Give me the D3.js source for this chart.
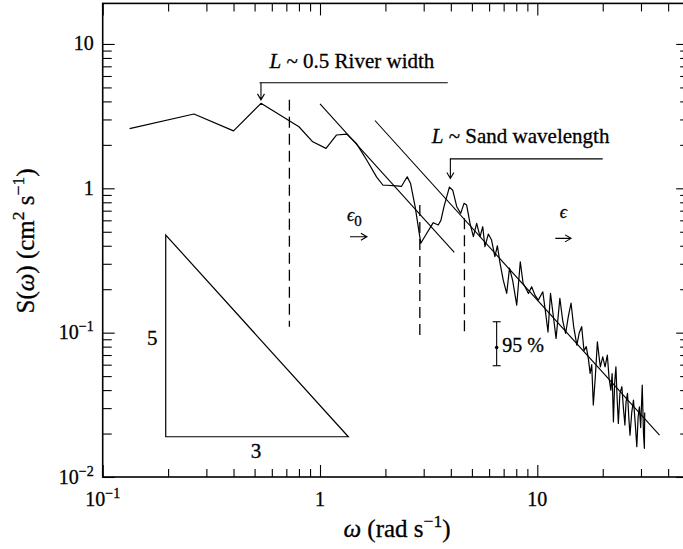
<!DOCTYPE html>
<html>
<head>
<meta charset="utf-8">
<script src="https://cdn.jsdelivr.net/npm/d3@7"></script>
<style>
  body { margin: 0; background: #fff; }
  svg { display: block; }
  text { font-family: "Liberation Serif", "Times New Roman", Times, serif; fill: #000; stroke: #000; stroke-width: 0.3px; }
</style>
</head>
<body>
<svg id="viz"></svg>
<script>
// spectrum (rad/s, cm^2/s)
const omega = [
  0.133, 0.263, 0.40, 0.535, 0.80, 0.926, 1.066, 1.19, 1.33, 1.47,
  1.64, 1.82, 1.95, 2.03, 2.25, 2.37, 2.44, 2.52, 2.61, 2.74,
  2.91, 3.10, 3.32, 3.50, 3.60, 3.72, 3.94, 4.08, 4.26, 4.44,
  4.60, 4.73, 4.90, 5.08, 5.26, 5.45, 5.61, 5.74, 5.95, 6.16,
  6.38, 6.55, 6.74, 6.97, 7.23, 7.45, 7.70, 8.04, 8.35, 8.60,
  8.90, 9.10, 9.42, 9.75, 10.1, 10.6, 10.9, 11.2, 11.5, 11.85,
  12.2, 12.7, 13.1, 13.5, 13.9, 14.3, 14.7, 15.2, 15.6, 16.0,
  16.4, 16.8, 17.2, 17.5, 17.8, 18.1, 18.5, 18.9, 19.2, 19.5,
  20.0, 20.5, 21.0, 21.4, 21.8, 22.1, 22.4, 22.7, 23.0, 23.3,
  23.6, 24.0, 24.5, 24.9, 25.3, 25.6, 26.0, 26.4, 26.7, 27.2,
  27.7, 28.2, 28.7, 29.1, 29.5, 29.9, 30.4, 30.8, 31.1, 31.2
]
const power = [
  2.59, 3.27, 2.50, 3.88, 2.67, 2.10, 1.89, 2.34, 2.37, 2.05,
  1.57, 1.20, 1.05, 1.05, 1.04, 1.03, 1.11, 1.20, 1.08, 0.746,
  0.416, 0.488, 0.578, 0.557, 0.60, 0.746, 1.02, 0.97, 0.746, 0.671,
  0.787, 0.766, 0.572, 0.462, 0.572, 0.462, 0.542, 0.394, 0.482, 0.438,
  0.336, 0.40, 0.302, 0.231, 0.187, 0.28, 0.23, 0.155, 0.31, 0.22,
  0.20, 0.187, 0.208, 0.182, 0.168, 0.192, 0.14, 0.101, 0.187, 0.13,
  0.0913, 0.173, 0.12, 0.0989, 0.13, 0.160, 0.11, 0.082, 0.10, 0.110,
  0.075, 0.08, 0.065, 0.0522, 0.06, 0.0315, 0.05, 0.0865, 0.07, 0.058,
  0.068, 0.058, 0.070, 0.048, 0.04, 0.052, 0.0241, 0.045, 0.058, 0.035,
  0.0235, 0.038, 0.0422, 0.03, 0.0229, 0.033, 0.038, 0.025, 0.0195, 0.028,
  0.0341, 0.024, 0.0162, 0.026, 0.0306, 0.022, 0.0433, 0.02, 0.0158, 0.028
]

// -5/3 reference lines [w0, S0, w1, S1]
const fitLines = [
  [1.0, 3.84, 4.15, 0.36],
  [1.79, 2.95, 36.5, 0.0195]
]
// dashed markers [w, Sbottom, Stop]
const dashedMarks = [
  [0.723, 0.11, 4.1],
  [2.88, 0.096, 0.766],
  [4.62, 0.096, 0.62]
]
const slopeTriangle = [[0.195, 0.475], [0.195, 0.019], [1.35, 0.019]]
const errorBar = { w: 6.5, lo: 0.059, mid: 0.079, hi: 0.119 }

const xMajor = [0.1, 1, 10]
const xMinor = [0.2, 0.3, 0.4, 0.5, 0.6, 0.7, 0.8, 0.9, 2, 3, 4, 5, 6, 7, 8, 9, 20, 30, 40]
const yMajor = [0.01, 0.1, 1, 10]
const yMinor = [0.02, 0.03, 0.04, 0.05, 0.06, 0.07, 0.08, 0.09,
  0.2, 0.3, 0.4, 0.5, 0.6, 0.7, 0.8, 0.9, 2, 3, 4, 5, 6, 7, 8, 9]
const xTickText = [['10', '−1'], ['1', ''], ['10', '']]
const yTickText = [['10', '−2'], ['10', '−1'], ['1', ''], ['10', '']]

const width = 683
const height = 549

const x = d3.scaleLog().domain([0.1, 50]).range([102.7, 689.2])
const y = d3.scaleLog().domain([0.01, 19.1]).range([477, 3.4])

const svg = d3.select('#viz')
  .attr('width', width)
  .attr('height', height)

// writes [text, kind] pieces, kind = 'i' italic, 'sup' superscript
function addParts(text, parts, size) {
  let shift = 0
  parts.forEach(([s, kind]) => {
    if (!s) return
    const t = text.append('tspan').text(s)
    const target = kind === 'sup' ? -size * 0.4 : 0
    if (target !== shift) t.attr('dy', target - shift)
    shift = target
    if (kind === 'sup') t.attr('font-size', size * 0.7)
    if (kind === 'i') t.attr('font-style', 'italic')
  })
}

// frame
svg.append('rect')
  .attr('x', x(0.1))
  .attr('y', y(19.1))
  .attr('width', x(50) - x(0.1))
  .attr('height', y(0.01) - y(19.1))
  .attr('fill', 'none')
  .attr('stroke', '#000')
  .attr('stroke-width', 1.6)

function ticks(axis, vals, len) {
  return (g) => {
    g.call(axis.tickValues(vals).tickSize(-len).tickSizeOuter(0).tickFormat(''))
    g.select('.domain').remove()
    g.selectAll('line').attr('stroke', '#000').attr('stroke-width', 1.1)
  }
}

svg.append('g').attr('transform', `translate(0,${y(0.01)})`).call(ticks(d3.axisBottom(x), xMinor, 8))
svg.append('g').attr('transform', `translate(0,${y(0.01)})`).call(ticks(d3.axisBottom(x), xMajor, 12))
svg.append('g').attr('transform', `translate(0,${y(19.1)})`).call(ticks(d3.axisTop(x), xMinor, 8))
svg.append('g').attr('transform', `translate(0,${y(19.1)})`).call(ticks(d3.axisTop(x), xMajor, 12))
svg.append('g').attr('transform', `translate(${x(0.1)},0)`).call(ticks(d3.axisLeft(y), yMinor, 9))
svg.append('g').attr('transform', `translate(${x(0.1)},0)`).call(ticks(d3.axisLeft(y), yMajor, 12))
svg.append('g').attr('transform', `translate(${x(50)},0)`).call(ticks(d3.axisRight(y), yMinor, 9))
svg.append('g').attr('transform', `translate(${x(50)},0)`).call(ticks(d3.axisRight(y), yMajor, 13))

// tick labels
xMajor.forEach((v, i) => {
  const t = svg.append('text')
    .attr('x', x(v))
    .attr('y', y(0.01) + 29)
    .attr('text-anchor', 'middle')
    .attr('font-size', 20)
  addParts(t, [[xTickText[i][0]], [xTickText[i][1], 'sup']], 20)
})
yMajor.forEach((v, i) => {
  const t = svg.append('text')
    .attr('x', x(0.1) - 9)
    .attr('y', y(v) + 6.5)
    .attr('text-anchor', 'end')
    .attr('font-size', 20)
  addParts(t, [[yTickText[i][0]], [yTickText[i][1], 'sup']], 20)
})

// axis titles
const xTitle = svg.append('text')
  .attr('x', 397)
  .attr('y', 537)
  .attr('text-anchor', 'middle')
  .attr('font-size', 25)
addParts(xTitle, [['ω', 'i'], [' (rad s'], ['−1', 'sup'], [')']], 25)

const yTitle = svg.append('text')
  .attr('transform', 'translate(34,241) rotate(-90)')
  .attr('text-anchor', 'middle')
  .attr('font-size', 25)
addParts(yTitle, [['S('], ['ω', 'i'], [') (cm'], ['2', 'sup'], [' s'], ['−1', 'sup'], [')']], 25)

// spectrum
const spec = omega.map((w, i) => [w, power[i]])
svg.append('path')
  .datum(spec)
  .attr('fill', 'none')
  .attr('stroke', '#000')
  .attr('stroke-width', 1.2)
  .attr('stroke-linejoin', 'round')
  .attr('d', d3.line().x((d) => x(d[0])).y((d) => y(d[1])))

// -5/3 lines
svg.append('g')
  .selectAll('line')
  .data(fitLines)
  .join('line')
  .attr('x1', (d) => x(d[0]))
  .attr('y1', (d) => y(d[1]))
  .attr('x2', (d) => x(d[2]))
  .attr('y2', (d) => y(d[3]))
  .attr('stroke', '#000')
  .attr('stroke-width', 1.1)

svg.append('g')
  .selectAll('line')
  .data(dashedMarks)
  .join('line')
  .attr('x1', (d) => x(d[0]))
  .attr('x2', (d) => x(d[0]))
  .attr('y1', (d) => y(d[2]))
  .attr('y2', (d) => y(d[1]))
  .attr('stroke', '#000')
  .attr('stroke-width', 1.3)
  .attr('stroke-dasharray', '11,6')

// slope triangle
svg.append('path')
  .datum(slopeTriangle)
  .attr('fill', 'none')
  .attr('stroke', '#000')
  .attr('stroke-width', 1.2)
  .attr('d', d3.line().x((d) => x(d[0])).y((d) => y(d[1])).curve(d3.curveLinearClosed))
svg.append('text').attr('x', x(0.169)).attr('y', y(0.082)).attr('text-anchor', 'middle').attr('font-size', 21).text('5')
svg.append('text').attr('x', x(0.508)).attr('y', y(0.0135)).attr('text-anchor', 'middle').attr('font-size', 21).text('3')

// 95 % bar
const eb = svg.append('g').attr('stroke', '#000').attr('stroke-width', 1.1)
eb.append('line').attr('x1', x(errorBar.w)).attr('x2', x(errorBar.w)).attr('y1', y(errorBar.hi)).attr('y2', y(errorBar.lo))
eb.append('line').attr('x1', x(errorBar.w) - 4).attr('x2', x(errorBar.w) + 4).attr('y1', y(errorBar.hi)).attr('y2', y(errorBar.hi))
eb.append('line').attr('x1', x(errorBar.w) - 4).attr('x2', x(errorBar.w) + 4).attr('y1', y(errorBar.lo)).attr('y2', y(errorBar.lo))
svg.append('circle').attr('cx', x(errorBar.w)).attr('cy', y(errorBar.mid)).attr('r', 1.8).attr('fill', '#000')
svg.append('text').attr('x', x(6.9)).attr('y', y(0.0737)).attr('font-size', 20).text('95 %')

// annotations
function arrowDown(x0, y0, y1) {
  return `M${x0},${y0}V${y1}M${x0 - 3.5},${y1 - 6}L${x0},${y1}L${x0 + 3.5},${y1 - 6}`
}
function arrowRight(x0, x1, y0) {
  return `M${x0},${y0}H${x1}M${x1 - 6},${y0 - 3.5}L${x1},${y0}L${x1 - 6},${y0 + 3.5}`
}

const ann = svg.append('g').attr('fill', 'none').attr('stroke', '#000').attr('stroke-width', 1.1)
ann.append('line').attr('x1', x(0.527)).attr('x2', x(3.87)).attr('y1', y(5.39)).attr('y2', y(5.39))
ann.append('path').attr('d', arrowDown(x(0.535), y(5.39), y(4.1)))
ann.append('line').attr('x1', x(3.96)).attr('x2', x(20)).attr('y1', y(1.6)).attr('y2', y(1.6))
ann.append('path').attr('d', arrowDown(x(3.98), y(1.6), y(1.17)))
ann.append('path').attr('d', arrowRight(x(1.374), x(1.644), y(0.462)))
ann.append('path').attr('d', arrowRight(x(12.1), x(14.3), y(0.45)))

const a1 = svg.append('text').attr('x', x(0.586)).attr('y', y(6.87)).attr('font-size', 21)
addParts(a1, [['L', 'i'], [' ~ 0.5 River width']], 21)
const a2 = svg.append('text').attr('x', x(3.27)).attr('y', y(2.05)).attr('font-size', 21)
addParts(a2, [['L', 'i'], [' ~ Sand wavelength']], 21)

const e0 = svg.append('text').attr('x', x(1.33)).attr('y', y(0.59)).attr('font-size', 18)
e0.append('tspan').attr('font-style', 'italic').text('ϵ')
e0.append('tspan').attr('dy', 5).attr('font-size', 15).text('0')
svg.append('text').attr('x', x(12.7)).attr('y', y(0.62)).attr('font-size', 18).attr('font-style', 'italic').text('ϵ')
</script>
</body>
</html>
